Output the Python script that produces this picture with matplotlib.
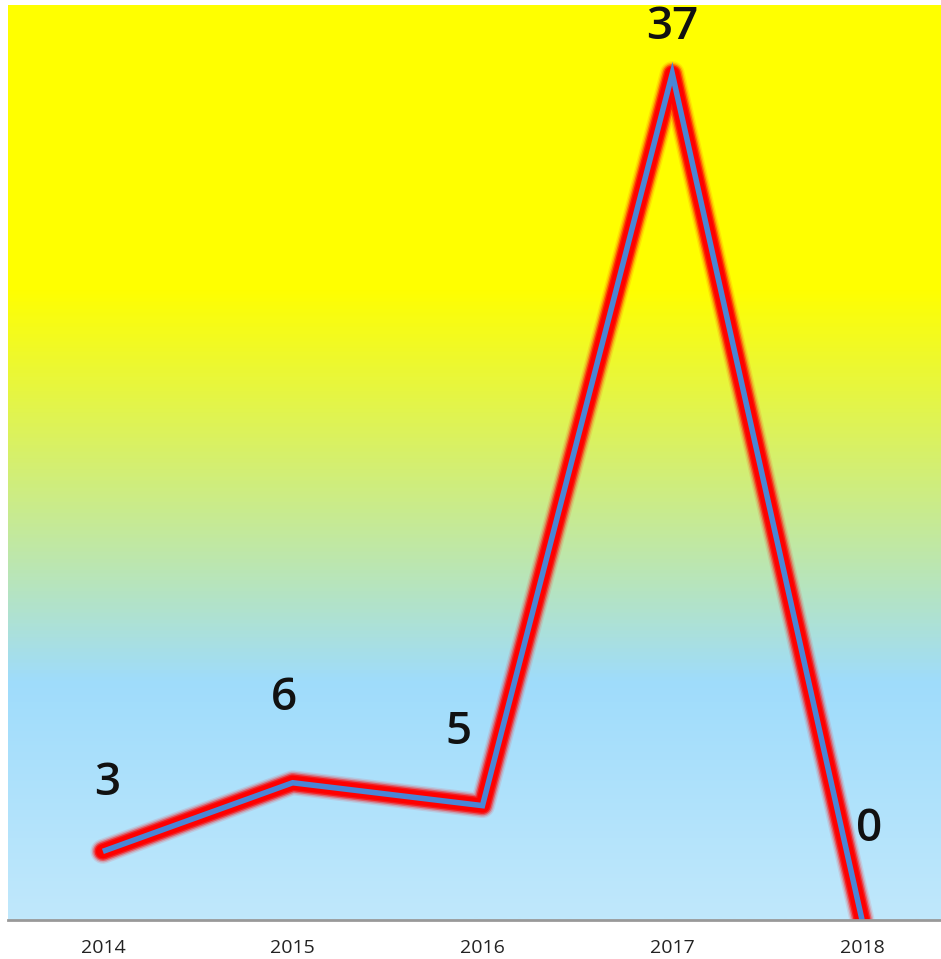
import matplotlib
matplotlib.use("Agg")
import matplotlib.pyplot as plt
import numpy as np
from matplotlib.colors import LinearSegmentedColormap

years = ["2014", "2015", "2016", "2017", "2018"]
counts = [3, 6, 5, 37, 0]

# label nudges (points) so the numbers sit like the original
label_dx = [3, -6, -17, 0, 5]
label_dy = [49, 61, 53, 33, 65]

W, H = 941, 959
fig = plt.figure(figsize=(W / 100, H / 100), dpi=100)
ax = fig.add_axes([8 / W, (H - 920) / H, 933 / W, 915 / H])

x = np.arange(len(years))
ax.set_xlim(-0.5, 4.416)
ax.set_ylim(0, 40)

# background gradient, yellow on top fading into light blue
cmap = LinearSegmentedColormap.from_list(
    "bg", [(0.0, "#c0e8fc"), (0.26, "#9fdcfb"), (0.69, "#ffff00"), (1.0, "#ffff00")])
grad = np.linspace(0, 1, 512).reshape(-1, 1)
ax.imshow(grad, cmap=cmap, origin="lower", aspect="auto",
          extent=[0, 1, 0, 1], transform=ax.transAxes, zorder=0)

# red glow under the line
for lw, a in [(18, 0.1), (16, 0.2), (14, 0.4), (12, 0.7), (10, 1.0)]:
    ax.plot(x, counts, color="#ff0000", lw=lw, alpha=a, solid_capstyle="round",
            solid_joinstyle="round", zorder=2)
ax.plot(x, counts, color="#4a86d6", lw=4, solid_capstyle="butt",
        solid_joinstyle="miter", zorder=3)

for i, v in enumerate(counts):
    ax.annotate(str(v), (x[i], v), xytext=(label_dx[i], label_dy[i]),
                textcoords="offset points", ha="center", va="center",
                fontsize=33, fontweight="semibold", family="Open Sans", color="#111111")

ax.set_xticks(x)
ax.set_xticklabels(years, fontsize=14, family="Open Sans", color="#222222")
ax.tick_params(axis="x", length=0, pad=14)
ax.set_yticks([])
for s in ["top", "left", "right"]:
    ax.spines[s].set_visible(False)
ax.spines["bottom"].set_color("#999999")
ax.spines["bottom"].set_linewidth(2)
ax.spines["bottom"].set_zorder(4)

fig.savefig("out.png", dpi=100)
